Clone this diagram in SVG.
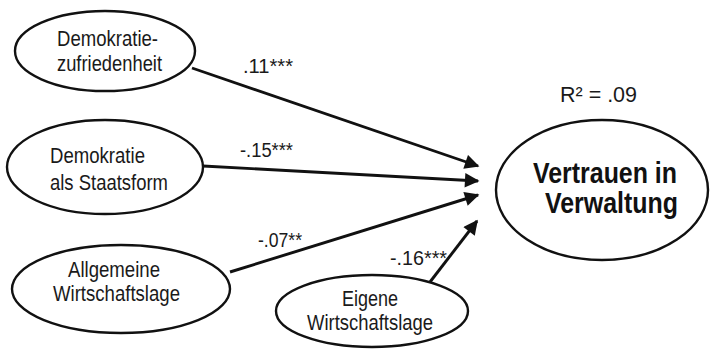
<svg xmlns="http://www.w3.org/2000/svg" width="711" height="351" viewBox="0 0 711 351">
  <style>
    .node { fill: #ffffff; stroke: #111111; stroke-width: 2.4; }
    .txt { font-family: "Liberation Sans", Arial, sans-serif; font-size: 22px; fill: #1a1a1a; }
    .lbl { font-family: "Liberation Sans", Arial, sans-serif; font-size: 20px; fill: #1a1a1a; }
    .big { font-family: "Liberation Sans", Arial, sans-serif; font-size: 29px; font-weight: bold; fill: #111111; }
    .edge { stroke: #111111; stroke-width: 2.9; fill: none; marker-end: url(#head); }
  </style>
  <defs>
    <marker id="head" viewBox="0 0 10 10" refX="9" refY="5" markerWidth="5.8" markerHeight="5" markerUnits="strokeWidth" orient="auto">
      <path d="M0,0 L10,5 L0,10 Z" fill="#111111"/>
    </marker>
  </defs>

  <rect width="711" height="351" fill="#ffffff"/>

  <!-- paths into the outcome -->
  <g id="connectors">
    <line class="edge" x1="192" y1="68" x2="478" y2="166"/>
    <line class="edge" x1="203" y1="166" x2="478" y2="181"/>
    <line class="edge" x1="230" y1="272" x2="478" y2="195"/>
    <line class="edge" x1="430" y1="282" x2="477" y2="221"/>
    <text class="lbl" x="243" y="73" textLength="50" lengthAdjust="spacingAndGlyphs">.11***</text>
    <text class="lbl" x="240" y="157" textLength="53" lengthAdjust="spacingAndGlyphs">-.15***</text>
    <text class="lbl" x="258" y="247" textLength="44" lengthAdjust="spacingAndGlyphs">-.07**</text>
    <text class="lbl" x="390" y="265" textLength="57" lengthAdjust="spacingAndGlyphs">-.16***</text>
  </g>

  <g id="demokratiezufriedenheit">
    <ellipse class="node" cx="105" cy="51" rx="90" ry="40"/>
    <text class="txt" x="57" y="46" textLength="101" lengthAdjust="spacingAndGlyphs">Demokratie-</text>
    <text class="txt" x="57" y="71" textLength="105" lengthAdjust="spacingAndGlyphs">zufriedenheit</text>
  </g>

  <g id="demokratie-staatsform">
    <ellipse class="node" cx="105" cy="167" rx="98" ry="47"/>
    <text class="txt" x="50" y="163" textLength="95" lengthAdjust="spacingAndGlyphs">Demokratie</text>
    <text class="txt" x="50" y="190" textLength="118" lengthAdjust="spacingAndGlyphs">als Staatsform</text>
  </g>

  <g id="allgemeine-wirtschaftslage">
    <ellipse class="node" cx="121" cy="289" rx="109" ry="44"/>
    <text class="txt" x="68" y="277" textLength="92" lengthAdjust="spacingAndGlyphs">Allgemeine</text>
    <text class="txt" x="53" y="301" textLength="127" lengthAdjust="spacingAndGlyphs">Wirtschaftslage</text>
  </g>

  <g id="eigene-wirtschaftslage">
    <ellipse class="node" cx="372" cy="311" rx="96" ry="36"/>
    <text class="txt" x="342" y="306" textLength="56" lengthAdjust="spacingAndGlyphs">Eigene</text>
    <text class="txt" x="307" y="330" textLength="126" lengthAdjust="spacingAndGlyphs">Wirtschaftslage</text>
  </g>

  <g id="vertrauen-verwaltung">
    <text class="txt" x="560" y="102" textLength="77" lengthAdjust="spacingAndGlyphs">R² = .09</text>
    <ellipse class="node" cx="602" cy="190" rx="106" ry="70"/>
    <text class="big" x="533" y="183" textLength="144" lengthAdjust="spacingAndGlyphs">Vertrauen in</text>
    <text class="big" x="545" y="213" textLength="133" lengthAdjust="spacingAndGlyphs">Verwaltung</text>
  </g>
</svg>
